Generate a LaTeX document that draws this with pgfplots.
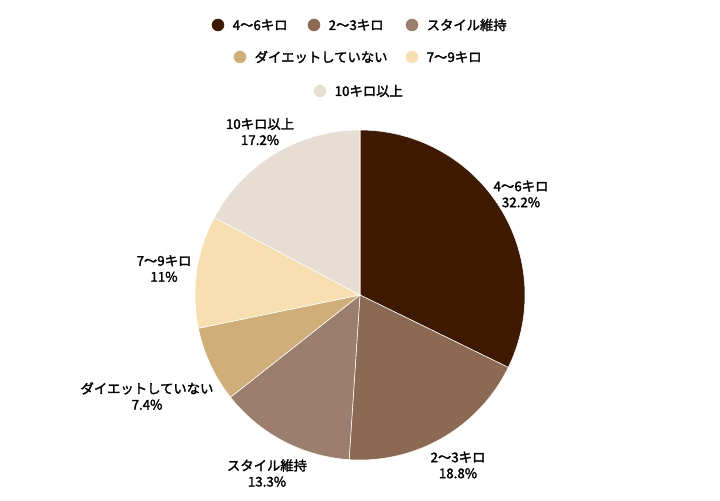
\documentclass[border=0pt]{standalone}
\usepackage{pgfplots}
\pgfplotsset{compat=1.18}
\usepackage{fontspec}
\setmainfont{Noto Sans CJK JP}[FakeBold=2]

\definecolor{cA}{HTML}{3F1A02}
\definecolor{cB}{HTML}{8B6952}
\definecolor{cC}{HTML}{9C7E6F}
\definecolor{cD}{HTML}{CFAE7A}
\definecolor{cE}{HTML}{F7DFB1}
\definecolor{cF}{HTML}{E8DDD2}
\definecolor{txt}{HTML}{222222}

\begin{document}
\begin{tikzpicture}
\begin{axis}[
    width=540pt, height=375pt, scale only axis,
    xmin=0, xmax=720, ymin=0, ymax=500,
    hide axis, clip=false,
    every node/.style={font=\fontsize{9.4}{12.8}\selectfont, text=txt},
]
\path (axis cs:0,0) rectangle (axis cs:720,500);

% slices, clockwise from the top; values in percent
\gdef\cum{0}
\foreach \v/\c in {32.2/cA, 18.8/cB, 13.3/cC, 7.4/cD, 11/cE, 17.2/cF}{
    \pgfmathsetmacro\b{90-360*(\cum/99.9)}
    \pgfmathsetmacro\a{90-360*((\cum+\v)/99.9)}
    \pgfmathsetmacro\n{\cum+\v}
    \xdef\cum{\n}
    \edef\doplot{\noexpand\addplot[fill=\c, draw=white, line width=0.4pt,
        domain=\a:\b, samples=90]
        ({360+165*cos(x)},{205+165*sin(x)}) -- (axis cs:360,205) -- cycle;}
    \doplot
}

% slice labels
\node[align=center] at (axis cs:521,306) {4〜6キロ\\32.2\%};
\node[align=center] at (axis cs:458,35) {2〜3キロ\\18.8\%};
\node[align=center] at (axis cs:267,27) {スタイル維持\\13.3\%};
\node[align=center] at (axis cs:147,104) {ダイエットしていない\\7.4\%};
\node[align=center] at (axis cs:164,231.5) {7〜9キロ\\11\%};
\node[align=center] at (axis cs:260,368.5) {10キロ以上\\17.2\%};

% legend
\addplot[only marks, mark=*, mark size=4.5pt, draw=none, fill=cA, mark options={draw=cA}] coordinates {(218,475)};
\addplot[only marks, mark=*, mark size=4.5pt, draw=none, fill=cB, mark options={draw=cB}] coordinates {(314,475)};
\addplot[only marks, mark=*, mark size=4.5pt, draw=none, fill=cC, mark options={draw=cC}] coordinates {(412,475)};
\addplot[only marks, mark=*, mark size=4.5pt, draw=none, fill=cD, mark options={draw=cD}] coordinates {(240,443)};
\addplot[only marks, mark=*, mark size=4.5pt, draw=none, fill=cE, mark options={draw=cE}] coordinates {(412,443)};
\addplot[only marks, mark=*, mark size=4.5pt, draw=none, fill=cF, mark options={draw=cF}] coordinates {(320,409)};
\node[anchor=west] at (axis cs:228,475) {4〜6キロ};
\node[anchor=west] at (axis cs:324,475) {2〜3キロ};
\node[anchor=west] at (axis cs:422,475) {スタイル維持};
\node[anchor=west] at (axis cs:250,443) {ダイエットしていない};
\node[anchor=west] at (axis cs:422,443) {7〜9キロ};
\node[anchor=west] at (axis cs:330,409) {10キロ以上};
\end{axis}
\end{tikzpicture}
\end{document}
